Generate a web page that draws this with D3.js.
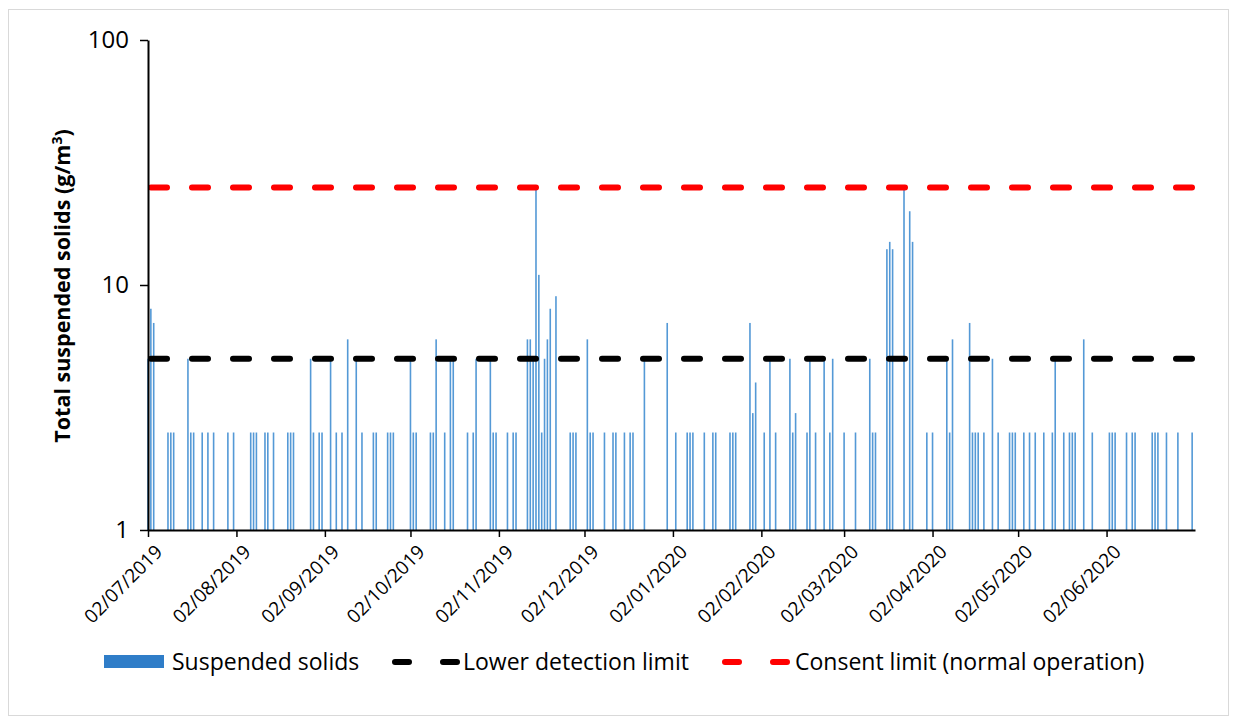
<!DOCTYPE html>
<html>
<head>
<meta charset="utf-8">
<script src="https://cdn.jsdelivr.net/npm/d3@7"></script>
<style>
  body { margin: 0; background: #fff; }
  svg { display: block; font-family: "Open Sans", sans-serif; }
</style>
</head>
<body>
<div id="chart"></div>
<script>
// sample day = days after 02/07/2019, tss = total suspended solids (g/m3)
const sampleDay = [0, 1, 2, 7, 8, 9, 14, 15, 16, 19, 21, 23, 28, 30, 36, 37, 38, 41, 42, 44,
  49, 50, 51, 57, 58, 60, 61, 64, 66, 68, 70, 73, 75, 79, 80, 84, 85, 86, 92, 93,
  94, 99, 100, 101, 104, 106, 107, 112, 114, 115, 120, 121, 122, 126, 128, 129, 133, 134, 135, 136,
  137, 138, 139, 140, 141, 143, 148, 149, 150, 154, 155, 156, 160, 163, 164, 167, 169, 170, 174, 182,
  185, 189, 190, 191, 195, 198, 199, 204, 205, 206, 211, 212, 213, 216, 218, 220, 225, 226, 227, 231,
  232, 234, 237, 239, 240, 244, 248, 253, 254, 255, 259, 260, 261, 265, 267, 268, 273, 275, 280, 281,
  282, 288, 289, 290, 291, 293, 296, 298, 302, 303, 304, 307, 309, 311, 314, 317, 318, 321, 323, 324,
  325, 328, 331, 337, 338, 339, 343, 345, 346, 352, 353, 354, 357, 361, 366];
const tss = [5, 8, 7, 2.5, 2.5, 2.5, 5, 2.5, 2.5, 2.5, 2.5, 2.5, 2.5, 2.5, 2.5, 2.5, 2.5, 2.5, 2.5, 2.5,
  2.5, 2.5, 2.5, 5, 2.5, 2.5, 2.5, 5, 2.5, 2.5, 6, 5, 2.5, 2.5, 2.5, 2.5, 2.5, 2.5, 5, 2.5,
  2.5, 2.5, 2.5, 6, 2.5, 5, 5, 2.5, 2.5, 5, 5, 2.5, 2.5, 2.5, 2.5, 2.5, 6, 6, 5, 25,
  11, 2.5, 5, 6, 8, 9, 2.5, 2.5, 2.5, 6, 2.5, 2.5, 2.5, 2.5, 2.5, 2.5, 2.5, 2.5, 5, 7,
  2.5, 2.5, 2.5, 2.5, 2.5, 2.5, 2.5, 2.5, 2.5, 2.5, 7, 3, 4, 2.5, 5, 2.5, 5, 2.5, 3, 2.5,
  5, 2.5, 5, 2.5, 5, 2.5, 2.5, 5, 2.5, 2.5, 14, 15, 14, 25, 20, 15, 2.5, 2.5, 5, 2.5,
  6, 7, 2.5, 2.5, 2.5, 2.5, 5, 2.5, 2.5, 2.5, 2.5, 2.5, 2.5, 2.5, 2.5, 2.5, 5, 2.5, 2.5, 2.5,
  2.5, 6, 2.5, 2.5, 2.5, 2.5, 2.5, 2.5, 2.5, 2.5, 2.5, 2.5, 2.5, 2.5, 2.5];
const startDate = "2019-07-02";
const endDate = "2020-07-03";
const tickDates = ["2019-07-02", "2019-08-02", "2019-09-02", "2019-10-02", "2019-11-02", "2019-12-02",
  "2020-01-02", "2020-02-02", "2020-03-02", "2020-04-02", "2020-05-02", "2020-06-02"];
const yTicks = [1, 10, 100];
const detectionLimit = 5;
const consentLimit = 25;
const legendLabels = ["Suspended solids", "Lower detection limit", "Consent limit (normal operation)"];

const width = 1237, height = 725;
const margin = {top: 40, right: 42, bottom: 195, left: 148};
const barColor = "#5499d6";

const parse = d3.utcParse("%Y-%m-%d");
const t0 = parse(startDate);
const data = sampleDay.map((d, i) => ({date: d3.utcDay.offset(t0, d), value: tss[i]}));

const x = d3.scaleUtc()
    .domain([t0, parse(endDate)])
    .range([margin.left, width - margin.right]);
const y = d3.scaleLog()
    .domain([1, 100])
    .range([height - margin.bottom, margin.top]);

const svg = d3.select("#chart").append("svg")
    .attr("width", width)
    .attr("height", height)
    .attr("viewBox", [0, 0, width, height]);

// outer frame
svg.append("rect")
    .attr("x", 8.5).attr("y", 9.5)
    .attr("width", 1220).attr("height", 706)
    .attr("fill", "none")
    .attr("stroke", "#d9d9d9");

// bars
svg.append("g")
    .selectAll("rect")
    .data(data)
    .join("rect")
    .attr("x", d => x(d.date) - 0.8)
    .attr("width", 1.6)
    .attr("y", d => y(d.value))
    .attr("height", d => y(1) - y(d.value))
    .attr("fill", barColor);

// limit lines
const limits = [
  {value: detectionLimit, color: "#000000"},
  {value: consentLimit, color: "#ff0000"}
];
svg.append("g")
    .selectAll("line")
    .data(limits)
    .join("line")
    .attr("x1", x.range()[0] + 3)
    .attr("x2", x.range()[1])
    .attr("y1", d => y(d.value))
    .attr("y2", d => y(d.value))
    .attr("stroke", d => d.color)
    .attr("stroke-width", 6)
    .attr("stroke-linecap", "round")
    .attr("stroke-dasharray", "16,25");

// x axis
const xAxis = d3.axisBottom(x)
    .tickValues(tickDates.map(parse))
    .tickFormat(d3.utcFormat("%d/%m/%Y"))
    .tickSize(7)
    .tickSizeOuter(0);
svg.append("g")
    .attr("transform", `translate(0,${y(1)})`)
    .call(xAxis)
    .call(g => g.select(".domain").attr("stroke-width", 2))
    .call(g => g.selectAll(".tick line").attr("stroke-width", 1.5))
    .call(g => g.selectAll(".tick text")
        .attr("font-size", 19)
        .attr("font-family", "Open Sans")
        .attr("fill", "#000")
        .attr("text-anchor", "end")
        .attr("dx", 0)
        .attr("dy", 0)
        .attr("transform", "translate(8,16) rotate(-45)"));

// y axis
const yAxis = d3.axisLeft(y)
    .tickValues(yTicks)
    .tickFormat(d3.format("d"))
    .tickSize(8)
    .tickSizeOuter(0);
svg.append("g")
    .attr("transform", `translate(${margin.left},0)`)
    .call(yAxis)
    .call(g => g.select(".domain").attr("stroke-width", 2))
    .call(g => g.selectAll(".tick line").attr("stroke-width", 1.5))
    .call(g => g.selectAll(".tick text")
        .attr("font-size", 24)
        .attr("font-family", "Open Sans")
        .attr("fill", "#000")
        .attr("x", -19));

// y axis title
const yTitle = svg.append("text")
    .attr("transform", `translate(70,${(y(1) + y(100)) / 2 + 1}) rotate(-90)`)
    .attr("text-anchor", "middle")
    .attr("font-size", 21.5)
    .attr("font-weight", "bold")
    .text("Total suspended solids (g/m");
yTitle.append("tspan").attr("dy", -8).attr("font-size", 14).text("3");
yTitle.append("tspan").attr("dy", 8).text(")");

// legend
const legend = svg.append("g").attr("font-size", 23);
legend.append("rect")
    .attr("x", 104).attr("y", 655)
    .attr("width", 60).attr("height", 13)
    .attr("fill", "#2f7dc8");
legend.append("text").attr("x", 172).attr("y", 670).text(legendLabels[0]);

[{x0: 392, color: "#000", label: legendLabels[1], tx: 463},
 {x0: 722, color: "#ff0000", label: legendLabels[2], tx: 795}].forEach(l => {
  legend.append("line")
      .attr("x1", l.x0 + 3).attr("x2", l.x0 + 65)
      .attr("y1", 662).attr("y2", 662)
      .attr("stroke", l.color)
      .attr("stroke-width", 6)
      .attr("stroke-linecap", "round")
      .attr("stroke-dasharray", "14,34");
  legend.append("text").attr("x", l.tx).attr("y", 670).text(l.label);
});
</script>
</body>
</html>
